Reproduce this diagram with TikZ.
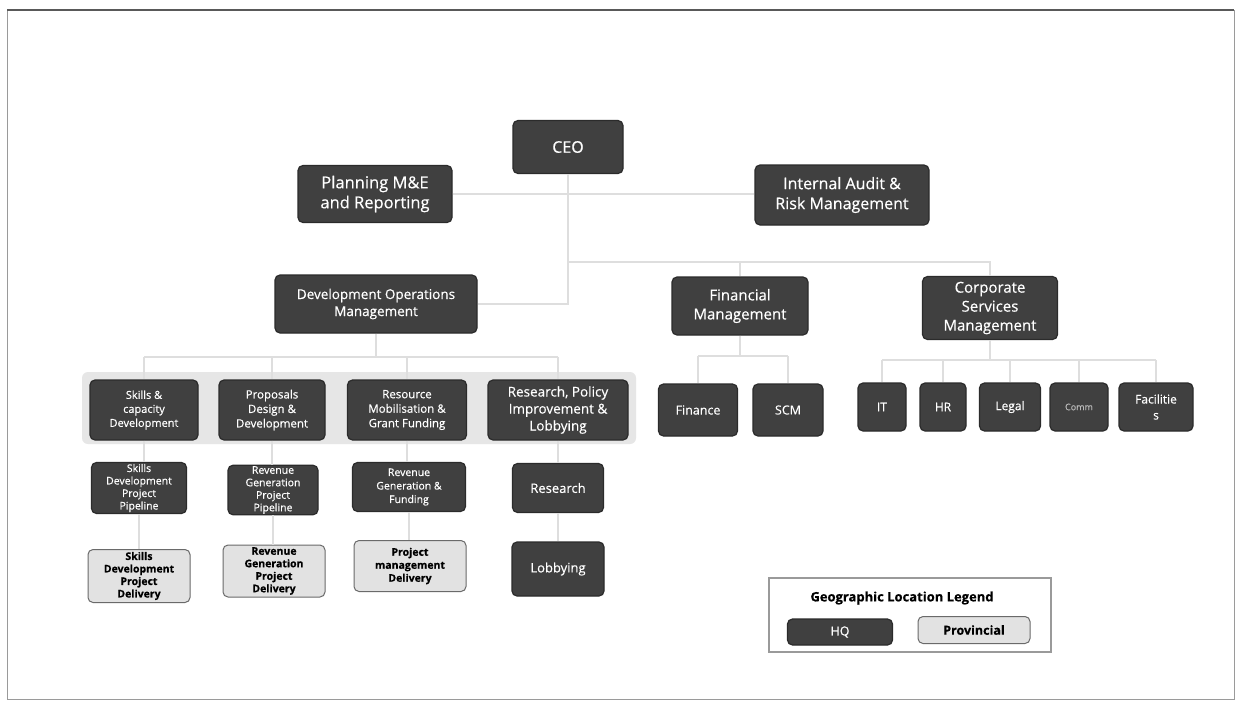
\documentclass[tikz,border=0pt]{standalone}
\usepackage{fontspec}
\setmainfont[FakeBold=0.4]{Open Sans}
\definecolor{boxdark}{HTML}{404040}
\definecolor{boxedge}{HTML}{2B2B2B}
\definecolor{provfill}{HTML}{E2E2E2}
\definecolor{provedge}{HTML}{6A6A6A}
\definecolor{linkgray}{HTML}{DEDEDE}
\definecolor{bandgray}{HTML}{E6E6E6}
\definecolor{framegray}{HTML}{9A9A9A}
\newcommand\fs[2]{\fontsize{#1}{#2}\selectfont}
\tikzset{
  hq/.style={draw=boxedge, fill=boxdark, line width=1.2pt, rounded corners=5pt,
    text=white, align=center, inner sep=1pt},
  prov/.style={draw=provedge, fill=provfill, line width=1pt, rounded corners=5pt,
    text=black, align=center, inner sep=1pt},
  link/.style={draw=linkgray, line width=1.4pt},
}
\begin{document}
\begin{tikzpicture}[x=1pt,y=-1pt]
\useasboundingbox (0,0) rectangle (1239,702);
\fill[white] (0,0) rectangle (1239,702);

% page frame
\draw[framegray, line width=1pt] (7,10) rectangle (1234,699);
\draw[gray!70!black, line width=2pt] (7,10) -- (1234,10);

% grey band behind the four development units
\path[fill=bandgray, rounded corners=6pt] (82,372) rectangle (636,444);

% executive level
\node[hq, font=\fs{16}{19}, minimum width=110, minimum height=53] (ceo) at (568,147) {CEO};
\node[hq, font=\fs{16.5}{20}, minimum width=154, minimum height=57] (plan) at (375,194) {Planning M\&E\\and Reporting};
\node[hq, font=\fs{16}{20}, minimum width=174, minimum height=60] (audit) at (842,195) {Internal Audit \&\\Risk Management};

% management level
\node[hq, font=\fs{13.5}{17}, minimum width=202, minimum height=58] (devops) at (376,304) {Development Operations\\Management};
\node[hq, font=\fs{15}{19}, minimum width=136, minimum height=58] (fin) at (740,306) {Financial\\Management};
\node[hq, font=\fs{15}{19}, minimum width=135, minimum height=63] (corp) at (990,308) {Corporate\\Services\\Management};

% development units
\node[hq, font=\fs{11}{14}, minimum width=108, minimum height=60] (skills) at (144,410) {Skills \&\\capacity\\Development};
\node[hq, font=\fs{11.5}{14.5}, minimum width=106, minimum height=60] (prop) at (272,410) {Proposals\\Design \&\\Development};
\node[hq, font=\fs{11.5}{14.5}, minimum width=119, minimum height=60] (res) at (407,410) {Resource\\Mobilisation \&\\Grant Funding};
\node[hq, font=\fs{13.5}{17}, minimum width=140, minimum height=60] (rpil) at (558,410) {Research, Policy\\Improvement \&\\Lobbying};

\node[hq, font=\fs{10.5}{12.5}, minimum width=95, minimum height=51] (sdpp) at (139,488) {Skills\\Development\\Project\\Pipeline};
\node[hq, font=\fs{10.5}{12.5}, minimum width=90, minimum height=48] (rgpp) at (273,490) {Revenue\\Generation\\Project\\Pipeline};
\node[hq, font=\fs{10.5}{13.5}, minimum width=113, minimum height=49] (rgf) at (409,487) {Revenue\\Generation \&\\Funding};
\node[hq, font=\fs{13}{16}, minimum width=91, minimum height=49] (research) at (558,488) {Research};

\node[prov, font=\bfseries\fs{10.5}{12.5}, minimum width=102, minimum height=53] (sdpd) at (139,576) {Skills\\Development\\Project\\Delivery};
\node[prov, font=\bfseries\fs{10.5}{12.5}, minimum width=102, minimum height=52] (rgpd) at (274,571) {Revenue\\Generation\\Project\\Delivery};
\node[prov, font=\bfseries\fs{10.5}{13}, minimum width=112, minimum height=51] (pmd) at (410,566) {Project\\management\\Delivery};
\node[hq, font=\fs{13}{16}, minimum width=92, minimum height=54] (lobby) at (558,569) {Lobbying};

% finance units
\node[hq, font=\fs{12.5}{15}, minimum width=79, minimum height=52] (finance) at (698,410) {Finance};
\node[hq, font=\fs{12.5}{15}, minimum width=70, minimum height=52] (scm) at (788,410) {SCM};

% corporate services units
\node[hq, font=\fs{12}{15}, minimum width=48, minimum height=48] (it) at (882,407) {IT};
\node[hq, font=\fs{12}{15}, minimum width=46, minimum height=48] (hr) at (943,407) {HR};
\node[hq, font=\fs{12}{15}, minimum width=61, minimum height=48] (legal) at (1010,407) {Legal};
\node[hq, font=\fs{9}{11}, text=gray!55, minimum width=58, minimum height=48] (comm) at (1079,407) {Comm};
\node[hq, font=\fs{12}{16}, minimum width=74, minimum height=48] (facil) at (1156,407) {Facilitie\\s};

% connectors
\coordinate (top) at (568,262);
\coordinate (opsj) at (568,304);
\draw[link] (ceo.south) -- (top) -- (opsj) -- (devops.east);
\draw[link] (plan.east) -- (plan.east -| audit.west);
\draw[link] (top) -- (corp.north |- top) -- (corp.north);
\draw[link] (fin.north |- top) -- (fin.north);

\coordinate (dbus) at (376,357);
\draw[link] (devops.south) -- (dbus);
\draw[link] (skills.north |- dbus) -- (rpil.north |- dbus);
\foreach \n in {skills,prop,res,rpil}
  \draw[link] (\n.north |- dbus) -- (\n.north);

\coordinate (fbus) at (740,356);
\draw[link] (fin.south) -- (fbus);
\draw[link] (finance.north |- fbus) -- (scm.north |- fbus);
\foreach \n in {finance,scm}
  \draw[link] (\n.north |- fbus) -- (\n.north);

\coordinate (cbus) at (990,360);
\draw[link] (corp.south) -- (cbus);
\draw[link] (it.north |- cbus) -- (facil.north |- cbus);
\foreach \n in {it,hr,legal,comm,facil}
  \draw[link] (\n.north |- cbus) -- (\n.north);

\draw[link] (skills.south) -- (skills.south |- sdpp.north);
\draw[link] (sdpp.south) -- (sdpp.south |- sdpd.north);
\draw[link] (prop.south) -- (prop.south |- rgpp.north);
\draw[link] (rgpp.south) -- (rgpp.south |- rgpd.north);
\draw[link] (res.south) -- (res.south |- rgf.north);
\draw[link] (rgf.south) -- (rgf.south |- pmd.north);
\draw[link] (rpil.south) -- (research.north);
\draw[link] (research.south) -- (lobby.north);

% legend
\node[draw=framegray, line width=1.5pt, minimum width=282, minimum height=74, inner sep=0] (legend) at (910,615) {};
\node[font=\bfseries\fs{13}{16}] (legtitle) at (902,598) {Geographic Location Legend};
\node[hq, font=\fs{12.5}{15}, minimum width=105, minimum height=26] (lhq) at (840,632) {HQ};
\node[prov, font=\bfseries\fs{12.5}{15}, minimum width=112, minimum height=27] (lprov) at (974,630) {Provincial};
\end{tikzpicture}
\end{document}
